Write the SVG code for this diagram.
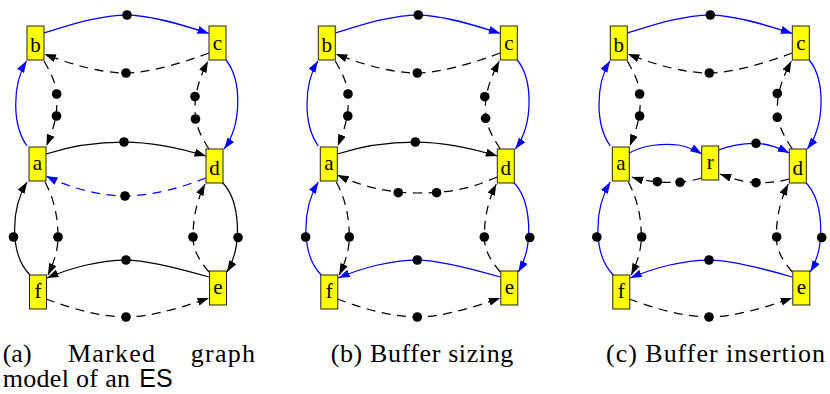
<svg xmlns="http://www.w3.org/2000/svg" width="830" height="394" viewBox="0 0 830 394">
  <style>
    .bg { fill: #ffffff; }
    .node rect { fill: #ffff00; stroke: #222222; stroke-width: 1; }
    .node text { font-family: "Liberation Serif", "Times New Roman", serif; font-size: 21px; text-anchor: middle; fill: #000; }
    .edges path { fill: none; stroke-width: 1.25; }
    .k { stroke: #000000; }
    .bl { stroke: #0000ff; }
    .dash { stroke-dasharray: 9 6.5; }
    .tok { fill: #000000; }
    .cap { font-family: "Liberation Serif", "Times New Roman", serif; font-size: 26px; fill: #000; }
    .capsf { font-family: "Liberation Sans", Arial, sans-serif; font-size: 25px; fill: #000; }
  </style>
  <defs>
    <marker id="ak" markerUnits="userSpaceOnUse" markerWidth="13" markerHeight="9" refX="11.5" refY="4" orient="auto">
      <path d="M0,0 L11.5,4 L0,8 z" fill="#000000" stroke="none"/>
    </marker>
    <marker id="ab" markerUnits="userSpaceOnUse" markerWidth="13" markerHeight="9" refX="11.5" refY="4" orient="auto">
      <path d="M0,0 L11.5,4 L0,8 z" fill="#0000ff" stroke="none"/>
    </marker>
  </defs>
  <rect class="bg" x="0" y="0" width="830" height="394"/>

  <!-- ===== (a) marked graph model ===== -->
  <g id="panel-a">
    <g id="edges-a" class="edges">
      <path class="bl" d="M44,33 C70,25 100,15 127,15 C150,15 180,24 209,33.5" marker-end="url(#ab)"/>
      <path class="k dash" d="M209,53 C185,62 150,73 126,73 C100,73 70,64 44.5,54" marker-end="url(#ak)"/>
      <path class="bl" d="M27,146 C12,125 12,85 26.5,61" marker-end="url(#ab)"/>
      <path class="k dash" d="M44,61 C52,75 57,85 57,100 C57,120 52,132 46.5,146" marker-end="url(#ak)"/>
      <path class="bl" d="M226,60 C242,80 242,125 224,149" marker-end="url(#ab)"/>
      <path class="k dash" d="M209,149 C200,135 195,125 195,108 C195,90 201,75 208,61" marker-end="url(#ak)"/>
      <path class="k" d="M46,154 C70,146 100,142 124,142 C150,142 180,148 206,156" marker-end="url(#ak)"/>
      <path class="bl dash" d="M206,178 C180,188 150,196 125,196 C100,196 70,188 46,176" marker-end="url(#ab)"/>
      <path class="k" d="M30,275 C10,255 10,210 27,182" marker-end="url(#ak)"/>
      <path class="k dash" d="M45,182 C55,200 58,220 58,237 C58,250 54,262 48,275" marker-end="url(#ak)"/>
      <path class="k" d="M222,182 C240,200 243,245 227,272" marker-end="url(#ak)"/>
      <path class="k dash" d="M209,272 C199,260 193,250 193,237 C193,215 198,198 205,184" marker-end="url(#ak)"/>
      <path class="k" d="M209,277 C185,270 150,260 126,260 C100,260 70,268 47,278" marker-end="url(#ak)"/>
      <path class="k dash" d="M46,299 C70,308 100,317 126,317 C150,317 180,308 209,298" marker-end="url(#ak)"/>
      <g class="tok">
        <circle cx="127" cy="15" r="4.8"/>
        <circle cx="126" cy="73" r="4.8"/>
        <circle cx="56.7" cy="94" r="4.8"/>
        <circle cx="56.5" cy="116" r="4.8"/>
        <circle cx="195" cy="96.5" r="4.8"/>
        <circle cx="195.5" cy="119" r="4.8"/>
        <circle cx="124" cy="142" r="4.8"/>
        <circle cx="125" cy="196" r="4.8"/>
        <circle cx="13.5" cy="237" r="4.8"/>
        <circle cx="58" cy="237" r="4.8"/>
        <circle cx="193" cy="237" r="4.8"/>
        <circle cx="238" cy="237.5" r="4.8"/>
        <circle cx="126" cy="260" r="4.8"/>
        <circle cx="126" cy="317" r="4.8"/>
      </g>
    </g>
    <g id="a-b" class="node"><rect x="27" y="26" width="17" height="34"/><text x="35.5" y="52">b</text></g>
    <g id="a-c" class="node"><rect x="209" y="26" width="17" height="34"/><text x="217.5" y="50">c</text></g>
    <g id="a-a" class="node"><rect x="29" y="147" width="17" height="34"/><text x="37.5" y="170">a</text></g>
    <g id="a-d" class="node"><rect x="206" y="149" width="17" height="34"/><text x="214.5" y="174.5">d</text></g>
    <g id="a-f" class="node"><rect x="29.5" y="275" width="17" height="34"/><text x="38" y="297.5">f</text></g>
    <g id="a-e" class="node"><rect x="209.5" y="271" width="17" height="34"/><text x="218" y="293.5">e</text></g>
  </g>

  <!-- ===== (b) buffer sizing ===== -->
  <g id="panel-b" transform="translate(291.3,0)">
    <g id="edges-b" class="edges">
      <path class="bl" d="M44,33 C70,25 100,15 127,15 C150,15 180,24 209,33.5" marker-end="url(#ab)"/>
      <path class="k dash" d="M209,53 C185,62 150,73 126,73 C100,73 70,64 44.5,54" marker-end="url(#ak)"/>
      <path class="bl" d="M27,146 C12,125 12,85 26.5,61" marker-end="url(#ab)"/>
      <path class="k dash" d="M44,61 C52,75 57,85 57,100 C57,120 52,132 46.5,146" marker-end="url(#ak)"/>
      <path class="bl" d="M226,60 C242,80 242,125 224,149" marker-end="url(#ab)"/>
      <path class="k dash" d="M209,149 C200,135 194,125 194,108 C194,90 201,75 208,61" marker-end="url(#ak)"/>
      <path class="k" d="M46,154 C70,146 100,142 124,142 C150,142 180,148 206,156" marker-end="url(#ak)"/>
      <path class="k dash" d="M206,177 C185,186 165,193 126,193 C95,193 70,186 46,175" marker-end="url(#ak)"/>
      <path class="bl" d="M30,275 C10,255 10,210 27,182" marker-end="url(#ab)"/>
      <path class="k dash" d="M45,182 C55,200 58,220 58,237 C58,250 54,262 48,275" marker-end="url(#ak)"/>
      <path class="bl" d="M222,182 C240,200 243,245 227,272" marker-end="url(#ab)"/>
      <path class="k dash" d="M209,272 C199,260 193,250 193,237 C193,215 198,198 205,184" marker-end="url(#ak)"/>
      <path class="bl" d="M209,277 C185,270 150,260 126,260 C100,260 70,268 47,278" marker-end="url(#ab)"/>
      <path class="k dash" d="M46,299 C70,308 100,317 126,317 C150,317 180,308 209,298" marker-end="url(#ak)"/>
      <g class="tok">
        <circle cx="127" cy="15" r="4.8"/>
        <circle cx="126" cy="73" r="4.8"/>
        <circle cx="56.7" cy="94" r="4.8"/>
        <circle cx="56.5" cy="116" r="4.8"/>
        <circle cx="193.5" cy="96.7" r="4.8"/>
        <circle cx="194.3" cy="118.3" r="4.8"/>
        <circle cx="124" cy="142" r="4.8"/>
        <circle cx="107" cy="192.7" r="4.8"/>
        <circle cx="145.3" cy="192.7" r="4.8"/>
        <circle cx="14.3" cy="237" r="4.8"/>
        <circle cx="58" cy="237" r="4.8"/>
        <circle cx="193" cy="237" r="4.8"/>
        <circle cx="238.5" cy="237.5" r="4.8"/>
        <circle cx="126" cy="260" r="4.8"/>
        <circle cx="126" cy="317" r="4.8"/>
      </g>
    </g>
    <g id="b-b" class="node"><rect x="27" y="26" width="17" height="34"/><text x="35.5" y="52">b</text></g>
    <g id="b-c" class="node"><rect x="209" y="26" width="17" height="34"/><text x="217.5" y="50">c</text></g>
    <g id="b-a" class="node"><rect x="29" y="147" width="17" height="34"/><text x="37.5" y="170">a</text></g>
    <g id="b-d" class="node"><rect x="206" y="149" width="17" height="34"/><text x="214.5" y="174.5">d</text></g>
    <g id="b-f" class="node"><rect x="29.5" y="275" width="17" height="34"/><text x="38" y="297.5">f</text></g>
    <g id="b-e" class="node"><rect x="209.5" y="271" width="17" height="34"/><text x="218" y="293.5">e</text></g>
  </g>

  <!-- ===== (c) buffer insertion ===== -->
  <g id="panel-c" transform="translate(583.3,0)">
    <g id="edges-c" class="edges">
      <path class="bl" d="M44,33 C70,25 100,15 127,15 C150,15 180,24 209,33.5" marker-end="url(#ab)"/>
      <path class="k dash" d="M209,53 C185,62 150,73 126,73 C100,73 70,64 44.5,54" marker-end="url(#ak)"/>
      <path class="bl" d="M27,146 C12,125 12,85 26.5,61" marker-end="url(#ab)"/>
      <path class="k dash" d="M44,61 C52,75 57,85 57,100 C57,120 52,132 46.5,146" marker-end="url(#ak)"/>
      <path class="bl" d="M226,60 C242,80 242,125 224,149" marker-end="url(#ab)"/>
      <path class="k dash" d="M209,149 C200,135 194,125 194,108 C194,90 201,75 208,61" marker-end="url(#ak)"/>
      <path class="bl" d="M46,153 C60,145 80,143 95,145 C105,147 112,150 118.4,154" marker-end="url(#ab)"/>
      <path class="bl" d="M135.5,150 C148,145 160,143 173,143.3 C185,143.5 196,148 206,153" marker-end="url(#ab)"/>
      <path class="k dash" d="M206,179 C195,182 185,183 173,182.7 C160,182.5 148,178 136.5,174" marker-end="url(#ak)"/>
      <path class="k dash" d="M118,178 C100,184 70,184 48.5,177" marker-end="url(#ak)"/>
      <path class="bl" d="M30,275 C10,255 10,210 27,182" marker-end="url(#ab)"/>
      <path class="k dash" d="M45,182 C55,200 58,220 58,237 C58,250 54,262 48,275" marker-end="url(#ak)"/>
      <path class="bl" d="M222,182 C240,200 243,245 227,272" marker-end="url(#ab)"/>
      <path class="k dash" d="M209,272 C199,260 193,250 193,237 C193,215 198,198 205,184" marker-end="url(#ak)"/>
      <path class="bl" d="M209,277 C185,270 150,260 126,260 C100,260 70,268 47,278" marker-end="url(#ab)"/>
      <path class="k dash" d="M46,299 C70,308 100,317 126,317 C150,317 180,308 209,298" marker-end="url(#ak)"/>
      <g class="tok">
        <circle cx="127" cy="15" r="4.8"/>
        <circle cx="126" cy="73" r="4.8"/>
        <circle cx="56.3" cy="94" r="4.8"/>
        <circle cx="56.3" cy="116" r="4.8"/>
        <circle cx="194" cy="93.5" r="4.8"/>
        <circle cx="194" cy="117.3" r="4.8"/>
        <circle cx="172.7" cy="143.3" r="4.8"/>
        <circle cx="172.7" cy="182.7" r="4.8"/>
        <circle cx="96.7" cy="182.3" r="4.8"/>
        <circle cx="74" cy="181.7" r="4.8"/>
        <circle cx="13.5" cy="237" r="4.8"/>
        <circle cx="58.4" cy="237" r="4.8"/>
        <circle cx="193.4" cy="237" r="4.8"/>
        <circle cx="238.4" cy="237.5" r="4.8"/>
        <circle cx="125.7" cy="260" r="4.8"/>
        <circle cx="125.7" cy="317" r="4.8"/>
      </g>
    </g>
    <g id="c-b" class="node"><rect x="27" y="26" width="17" height="34"/><text x="35.5" y="52">b</text></g>
    <g id="c-c" class="node"><rect x="209" y="26" width="17" height="34"/><text x="217.5" y="50">c</text></g>
    <g id="c-a" class="node"><rect x="29" y="147" width="17" height="34"/><text x="37.5" y="170">a</text></g>
    <g id="c-r" class="node"><rect x="118.4" y="146" width="17" height="34"/><text x="126.9" y="169">r</text></g>
    <g id="c-d" class="node"><rect x="206" y="149" width="17" height="34"/><text x="214.5" y="174.5">d</text></g>
    <g id="c-f" class="node"><rect x="29.5" y="275" width="17" height="34"/><text x="38" y="297.5">f</text></g>
    <g id="c-e" class="node"><rect x="209.5" y="271" width="17" height="34"/><text x="218" y="293.5">e</text></g>
  </g>

  <!-- captions -->
  <g id="captions">
    <text class="cap" x="2.7" y="361.5">(a)</text>
    <text class="cap" x="68" y="361.5" textLength="87" lengthAdjust="spacing">Marked</text>
    <text class="cap" x="190.7" y="361.5" textLength="64.3" lengthAdjust="spacing">graph</text>
    <text class="cap" x="2.7" y="387" textLength="127.3" lengthAdjust="spacing">model of an</text>
    <text class="capsf" x="139.3" y="387">ES</text>
    <text class="cap" x="330.7" y="361.5" textLength="182.6" lengthAdjust="spacing">(b) Buffer sizing</text>
    <text class="cap" x="606" y="361.5" textLength="219" lengthAdjust="spacing">(c) Buffer insertion</text>
  </g>
</svg>
